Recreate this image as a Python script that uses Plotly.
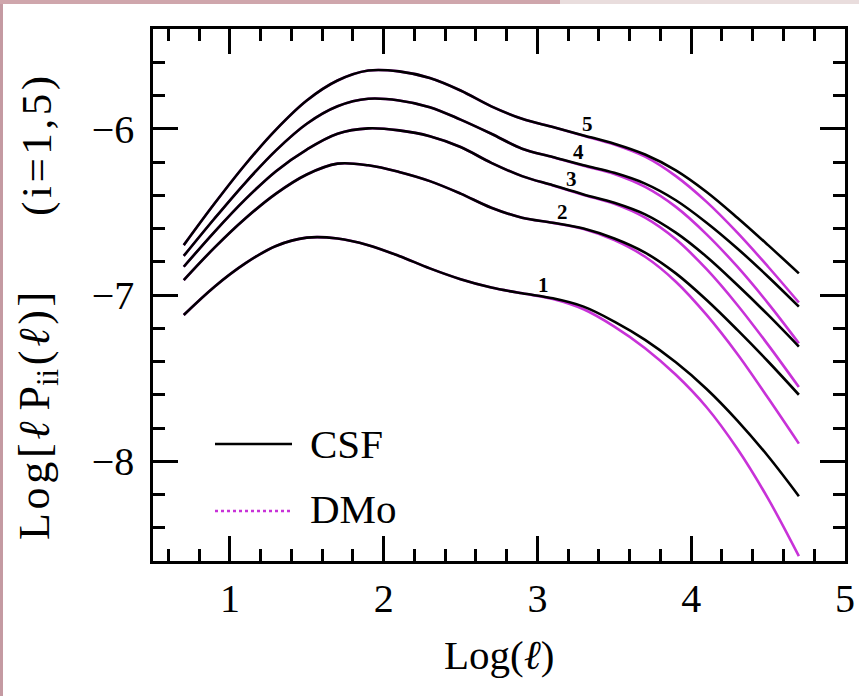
import numpy as np
import plotly.graph_objects as go

# Multipole axis, Log(l)
log_ell = [0.7, 0.9, 1.1, 1.3, 1.5, 1.7, 1.9, 2.1, 2.3, 2.5, 2.7,
           2.9, 3.1, 3.3, 3.5, 3.7, 3.9, 4.1, 4.3, 4.5, 4.7]

# Log[l P_ii(l)] for the CSF run, bins i = 1..5
csf_1 = [-7.12, -6.95, -6.81, -6.705, -6.655, -6.66, -6.70, -6.765, -6.84, -6.905, -6.955,
         -6.99, -7.02, -7.07, -7.16, -7.27, -7.405, -7.565, -7.755, -7.97, -8.21]
csf_2 = [-6.91, -6.715, -6.54, -6.39, -6.275, -6.21, -6.22, -6.26, -6.315, -6.39, -6.475,
         -6.535, -6.565, -6.60, -6.66, -6.745, -6.87, -7.03, -7.21, -7.40, -7.60]
csf_3 = [-6.83, -6.62, -6.425, -6.255, -6.125, -6.03, -5.998, -6.01, -6.045, -6.11, -6.205,
         -6.285, -6.34, -6.395, -6.445, -6.515, -6.625, -6.77, -6.94, -7.12, -7.31]
csf_4 = [-6.765, -6.54, -6.325, -6.13, -5.97, -5.865, -5.82, -5.83, -5.87, -5.945, -6.03,
         -6.12, -6.17, -6.22, -6.265, -6.33, -6.43, -6.565, -6.72, -6.89, -7.07]
csf_5 = [-6.70, -6.45, -6.215, -6.005, -5.83, -5.71, -5.65, -5.655, -5.695, -5.77, -5.865,
         -5.94, -5.99, -6.04, -6.09, -6.155, -6.25, -6.38, -6.535, -6.70, -6.87]

# Same bins for the dark-matter-only run
dmo_1 = [-7.12, -6.95, -6.81, -6.705, -6.655, -6.66, -6.70, -6.765, -6.84, -6.905, -6.955,
         -6.99, -7.024, -7.086, -7.19, -7.32, -7.48, -7.675, -7.925, -8.225, -8.571]
dmo_2 = [-6.91, -6.715, -6.54, -6.39, -6.275, -6.21, -6.22, -6.26, -6.315, -6.39, -6.475,
         -6.535, -6.566, -6.603, -6.67, -6.77, -6.92, -7.12, -7.355, -7.62, -7.894]
dmo_3 = [-6.83, -6.62, -6.425, -6.255, -6.125, -6.03, -5.998, -6.01, -6.045, -6.11, -6.205,
         -6.285, -6.341, -6.398, -6.452, -6.535, -6.665, -6.845, -7.06, -7.30, -7.554]
dmo_4 = [-6.765, -6.54, -6.325, -6.13, -5.97, -5.865, -5.82, -5.83, -5.87, -5.945, -6.03,
         -6.12, -6.171, -6.222, -6.272, -6.35, -6.47, -6.635, -6.83, -7.05, -7.29]
dmo_5 = [-6.70, -6.45, -6.215, -6.005, -5.83, -5.71, -5.65, -5.655, -5.695, -5.77, -5.865,
         -5.94, -5.99, -6.042, -6.095, -6.168, -6.285, -6.44, -6.625, -6.83, -7.045]

csf_curves = [csf_1, csf_2, csf_3, csf_4, csf_5]
dmo_curves = [dmo_1, dmo_2, dmo_3, dmo_4, dmo_5]
bin_labels = ["1", "2", "3", "4", "5"]
bin_label_x = [3.039, 3.161, 3.223, 3.268, 3.325]

x_ticks = [1, 2, 3, 4, 5]
y_ticks = [-8, -7, -6]

# Page geometry (pixels)
W, H = 859, 696
ML, MR, MT, MB = 153, 14, 29, 135
PW, PH = W - ML - MR, H - MT - MB


def px2x(px):
    return (px - ML) / PW


def py2y(py):
    return (H - MB - py) / PH


BLACK = "#000000"
MAGENTA = "#c832d8"
SERIF = "Liberation Serif, Times New Roman, serif"
HS = "\u200a"  # hair space, widens the rotated label a little

fig = go.Figure()

for ys in dmo_curves:
    fig.add_trace(go.Scatter(x=log_ell, y=ys, mode="lines", line_shape="spline",
                             line=dict(color=MAGENTA, width=2.6),
                             showlegend=False, hoverinfo="skip"))
for ys in csf_curves:
    fig.add_trace(go.Scatter(x=log_ell, y=ys, mode="lines", line_shape="spline",
                             line=dict(color=BLACK, width=2.6),
                             showlegend=False, hoverinfo="skip"))

annotations = []
for lab, lx, ys in zip(bin_labels, bin_label_x, csf_curves):
    annotations.append(dict(x=lx, y=float(np.interp(lx, log_ell, ys)), xref="x", yref="y",
                            text="<b>%s</b>" % lab, showarrow=False, yshift=12,
                            font=dict(family=SERIF, size=21, color=BLACK)))

# Hand-drawn key
key_shapes = [
    dict(type="line", xref="paper", yref="paper", x0=px2x(215), x1=px2x(292),
         y0=py2y(444), y1=py2y(444), line=dict(color=BLACK, width=2.5)),
    dict(type="line", xref="paper", yref="paper", x0=px2x(215), x1=px2x(292),
         y0=py2y(511), y1=py2y(511), line=dict(color=MAGENTA, width=2.5, dash="dot")),
]
annotations += [
    dict(x=px2x(308), y=py2y(444), xref="paper", yref="paper", text="CSF",
         showarrow=False, xanchor="left", yanchor="middle",
         font=dict(family=SERIF, size=41, color=BLACK)),
    dict(x=px2x(308), y=py2y(509), xref="paper", yref="paper", text="DMo",
         showarrow=False, xanchor="left", yanchor="middle",
         font=dict(family=SERIF, size=41, color=BLACK)),
]

ylab_main = HS.join(["L", "o", "g", "[", "<i>ℓ</i>"]) + " " + HS.join(
    ["P<sub>ii</sub>", "(", "<i>ℓ</i>", ")", "]"])
ylab_bins = HS.join(["(", "i", "=", "1", ",", "5", ")"])

# Axis titles
annotations += [
    dict(x=0.5, y=py2y(655), xref="paper", yref="paper", text="Log(<i>ℓ</i>)",
         showarrow=False, xanchor="center", yanchor="middle",
         font=dict(family=SERIF, size=41, color=BLACK)),
    dict(x=px2x(37), y=py2y(416), xref="paper", yref="paper",
         text=ylab_main, textangle=-90,
         showarrow=False, xanchor="center", yanchor="middle",
         font=dict(family=SERIF, size=44, color=BLACK)),
    dict(x=px2x(37), y=py2y(146), xref="paper", yref="paper",
         text=ylab_bins, textangle=-90,
         showarrow=False, xanchor="center", yanchor="middle",
         font=dict(family=SERIF, size=43, color=BLACK)),
]

# Tinted page edges
edge_shapes = [
    dict(type="rect", xref="paper", yref="paper", x0=px2x(0), x1=px2x(3),
         y0=py2y(H), y1=py2y(0), line=dict(width=0), fillcolor="#c49aa2"),
    dict(type="rect", xref="paper", yref="paper", x0=px2x(0), x1=px2x(560),
         y0=py2y(4), y1=py2y(0), line=dict(width=0), fillcolor="#cfa6ac"),
    dict(type="rect", xref="paper", yref="paper", x0=px2x(560), x1=px2x(W),
         y0=py2y(4), y1=py2y(0), line=dict(width=0), fillcolor="#e9dddd"),
]

axis_common = dict(
    showgrid=False, zeroline=False, showline=True, linecolor=BLACK, linewidth=2.6,
    mirror="allticks", ticks="inside", ticklen=25, tickwidth=2.5, tickcolor=BLACK,
    tickfont=dict(family=SERIF, size=40, color=BLACK), automargin=False,
)

fig.update_layout(
    width=W, height=H,
    margin=dict(l=ML, r=MR, t=MT, b=MB, pad=0, autoexpand=False),
    paper_bgcolor="white", plot_bgcolor="white",
    showlegend=False,
    xaxis=dict(range=[0.5, 5.0], tickvals=x_ticks, ticktext=[str(v) for v in x_ticks],
               ticklabelstandoff=0,
               minor=dict(dtick=0.2, tick0=0, ticks="inside", ticklen=12, tickwidth=2.5,
                          tickcolor=BLACK),
               **axis_common),
    yaxis=dict(range=[-8.6, -5.4], tickvals=y_ticks,
               ticktext=["\u2212%d" % abs(v) for v in y_ticks],
               ticklabelstandoff=8,
               minor=dict(dtick=0.2, tick0=0, ticks="inside", ticklen=12, tickwidth=2.5,
                          tickcolor=BLACK),
               **axis_common),
    shapes=key_shapes + edge_shapes,
    annotations=annotations,
)

fig.write_html("out.html")
